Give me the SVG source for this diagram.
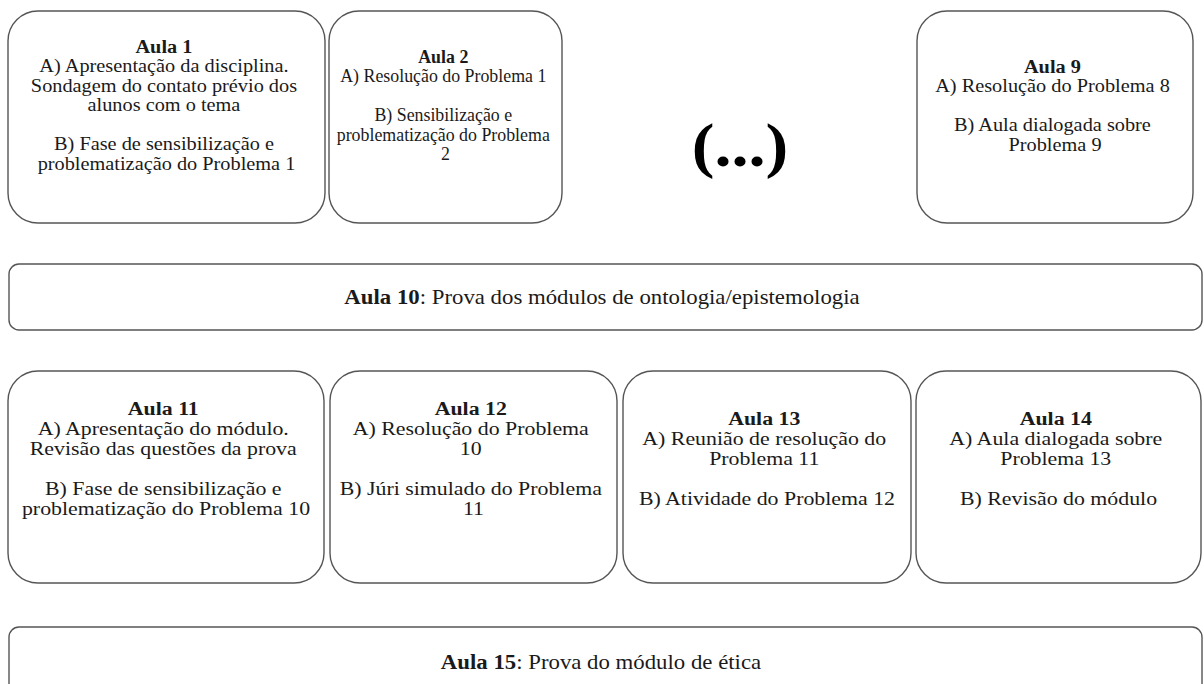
<svg xmlns="http://www.w3.org/2000/svg" width="1204" height="684" viewBox="0 0 1204 684">
<style>
.box{fill:#ffffff;stroke:#555555;stroke-width:1.4}
.t{font-family:"Liberation Serif","Times New Roman",serif;font-size:19px;fill:#1a1a1a;text-anchor:middle}
.tb{font-family:"Liberation Serif","Times New Roman",serif;font-size:20px;fill:#1a1a1a;text-anchor:middle}
.b{font-weight:bold}
.dots{font-family:"Liberation Serif","Times New Roman",serif;font-size:62px;font-weight:bold;fill:#000000;text-anchor:middle}
</style>
<rect x="0" y="0" width="1204" height="684" fill="#ffffff"/>
<g id="aula1">
<rect class="box" x="8" y="11" width="317" height="212" rx="30"/>
<g transform="translate(166.5 0) scale(1.07 1)"><text class="t">
<tspan x="0" y="53" class="b">Aula 1</tspan>
<tspan x="0" y="72.5">A) Apresentação da disciplina.</tspan>
<tspan x="0" y="92">Sondagem do contato prévio dos</tspan>
<tspan x="0" y="111.5">alunos com o tema</tspan>
<tspan x="0" y="150.5">B) Fase de sensibilização e</tspan>
<tspan x="0" y="170">problematização do Problema 1</tspan>
</text></g>
</g>
<g id="aula2">
<rect class="box" x="329" y="11" width="233" height="212" rx="30"/>
<g transform="translate(445.5 0) scale(0.94 1)"><text class="t">
<tspan x="0" y="63" class="b">Aula 2</tspan>
<tspan x="0" y="82.5">A) Resolução do Problema 1</tspan>
<tspan x="0" y="121.5">B) Sensibilização e</tspan>
<tspan x="0" y="141">problematização do Problema</tspan>
<tspan x="0" y="160.5">2</tspan>
</text></g>
</g>
<g id="ellipsis">
<g transform="translate(740 0) scale(1.1 1)"><text class="dots" x="0" y="166">(...)</text></g>
</g>
<g id="aula9">
<rect class="box" x="917" y="11" width="276" height="212" rx="30"/>
<g transform="translate(1055 0) scale(1.07 1)"><text class="t">
<tspan x="0" y="73" class="b">Aula 9</tspan>
<tspan x="0" y="92.5">A) Resolução do Problema 8</tspan>
<tspan x="0" y="131.5">B) Aula dialogada sobre</tspan>
<tspan x="0" y="151">Problema 9</tspan>
</text></g>
</g>
<g id="aula10">
<rect class="box" x="9" y="264" width="1193" height="66" rx="10"/>
<g transform="translate(602 0) scale(1.14 1)"><text class="tb" x="0" y="304"><tspan class="b">Aula 10</tspan>: Prova dos módulos de ontologia/epistemologia</text></g>
</g>
<g id="aula11">
<rect class="box" x="8" y="371" width="316" height="212" rx="30"/>
<g transform="translate(166 0) scale(1.15 1)"><text class="t">
<tspan x="0" y="415" class="b">Aula 11</tspan>
<tspan x="0" y="435">A) Apresentação do módulo.</tspan>
<tspan x="0" y="455">Revisão das questões da prova</tspan>
<tspan x="0" y="495">B) Fase de sensibilização e</tspan>
<tspan x="0" y="515">problematização do Problema 10</tspan>
</text></g>
</g>
<g id="aula12">
<rect class="box" x="330" y="371" width="287" height="212" rx="30"/>
<g transform="translate(473.5 0) scale(1.15 1)"><text class="t">
<tspan x="0" y="415" class="b">Aula 12</tspan>
<tspan x="0" y="435">A) Resolução do Problema</tspan>
<tspan x="0" y="455">10</tspan>
<tspan x="0" y="495">B) Júri simulado do Problema</tspan>
<tspan x="0" y="515">11</tspan>
</text></g>
</g>
<g id="aula13">
<rect class="box" x="623" y="371" width="288" height="212" rx="30"/>
<g transform="translate(767 0) scale(1.15 1)"><text class="t">
<tspan x="0" y="425" class="b">Aula 13</tspan>
<tspan x="0" y="445">A) Reunião de resolução do</tspan>
<tspan x="0" y="465">Problema 11</tspan>
<tspan x="0" y="505">B) Atividade do Problema 12</tspan>
</text></g>
</g>
<g id="aula14">
<rect class="box" x="916" y="371" width="285" height="212" rx="30"/>
<g transform="translate(1058.5 0) scale(1.15 1)"><text class="t">
<tspan x="0" y="425" class="b">Aula 14</tspan>
<tspan x="0" y="445">A) Aula dialogada sobre</tspan>
<tspan x="0" y="465">Problema 13</tspan>
<tspan x="0" y="505">B) Revisão do módulo</tspan>
</text></g>
</g>
<g id="aula15">
<rect class="box" x="9" y="627" width="1193" height="80" rx="10"/>
<g transform="translate(601 0) scale(1.14 1)"><text class="tb" x="0" y="669"><tspan class="b">Aula 15</tspan>: Prova do módulo de ética</text></g>
</g>
<g id="connectors"></g>
</svg>
